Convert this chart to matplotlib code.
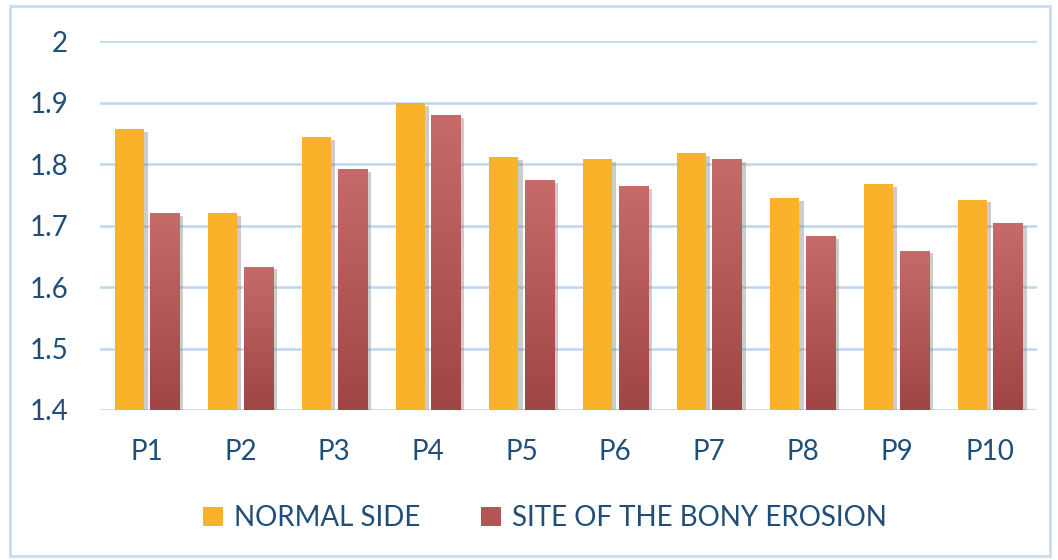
import numpy as np
import matplotlib
matplotlib.use("Agg")
import matplotlib.pyplot as plt
import matplotlib.patheffects as pe
from matplotlib.patches import Rectangle, Patch
from matplotlib.colors import LinearSegmentedColormap

plt.rcParams["font.family"] = ["Lato", "DejaVu Sans"]

patients = ["P1", "P2", "P3", "P4", "P5", "P6", "P7", "P8", "P9", "P10"]
normal_side = [1.857, 1.720, 1.844, 1.899, 1.811, 1.808, 1.818, 1.745, 1.767, 1.742]
erosion_site = [1.720, 1.633, 1.792, 1.880, 1.774, 1.764, 1.808, 1.683, 1.659, 1.704]

text_col = "#1F4E79"
grid_col = "#BDD7EE"
orange = "#F9B22A"
red_top, red_bot = "#C66A6A", "#A04545"

fig = plt.figure(figsize=(10.58, 5.60), dpi=100)
ax = fig.add_axes([100 / 1058, 1 - 410 / 560, 937 / 1058, 369 / 560])

x = np.arange(len(patients))
w = 0.31
shadow = [pe.SimplePatchShadow(offset=(3, -2), shadow_rgbFace="#808080", alpha=0.4), pe.Normal()]

ax.bar(x - 0.19, np.array(normal_side) - 1.4, bottom=1.4, width=w, color=orange,
       zorder=3, path_effects=shadow)
red_bars = ax.bar(x + 0.19, np.array(erosion_site) - 1.4, bottom=1.4, width=w,
                  color=red_bot, zorder=3, path_effects=shadow)

# vertical gradient on the erosion bars
cmap = LinearSegmentedColormap.from_list("redgrad", [red_bot, red_top])
grad = np.linspace(0, 1, 256).reshape(-1, 1)
for b in red_bars:
    x0, y0 = b.get_x(), b.get_y()
    im = ax.imshow(grad, cmap=cmap, origin="lower", aspect="auto", zorder=4,
                   extent=[x0, x0 + b.get_width(), y0, y0 + b.get_height()])
    im.set_clip_path(b)

ax.set_xlim(-0.5, len(patients) - 0.5)
ax.set_ylim(1.4, 2.0)
ax.set_yticks(np.arange(1.4, 2.01, 0.1))
ax.set_yticklabels(["1.4", "1.5", "1.6", "1.7", "1.8", "1.9", "2"])
ax.set_xticks(x)
ax.set_xticklabels(patients)
ax.tick_params(axis="both", length=0, labelsize=20, labelcolor=text_col)
ax.tick_params(axis="y", pad=23)
ax.tick_params(axis="x", pad=21)
ax.grid(axis="y", color=grid_col, linewidth=1.8, zorder=0)
for s in ax.spines.values():
    s.set_visible(False)

handles = [Patch(facecolor=orange), Patch(facecolor="#B35555")]
fig.legend(handles, ["NORMAL SIDE", "SITE OF THE BONY EROSION"], loc="center",
           bbox_to_anchor=(0.515, 1 - 518 / 560), ncol=2, frameon=False,
           fontsize=20, labelcolor=text_col, handlelength=0.7, handleheight=0.7,
           handletextpad=0.4, columnspacing=2.2)

fig.add_artist(Rectangle((10 / 1058, 4 / 560), 1040 / 1058, 550 / 560,
                         transform=fig.transFigure, fill=False,
                         edgecolor="#C9DDF0", linewidth=2))

fig.savefig("out.png", dpi=100)
